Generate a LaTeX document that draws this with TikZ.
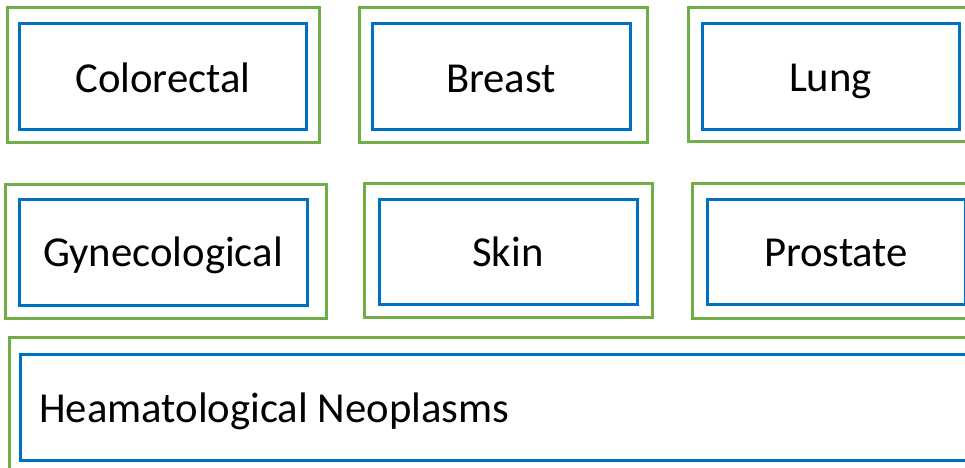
\documentclass[tikz,border=0pt]{standalone}
\usepackage{fontspec}
\setmainfont{Carlito}
\definecolor{framegreen}{HTML}{70AD47}
\definecolor{boxblue}{HTML}{0070C0}
\begin{document}
\begin{tikzpicture}[x=1pt,y=-1pt,
  outerbox/.style={draw=framegreen,line width=3pt,rectangle,inner sep=0pt},
  innerbox/.style={draw=boxblue,line width=3pt,rectangle,inner sep=0pt},
  label/.style={anchor=base,inner sep=0pt,font=\fontsize{42.7}{50}\selectfont}]
\useasboundingbox (0,0) rectangle (965,467);
\clip (0,0) rectangle (965,467);
% top row
\node[outerbox,minimum width=312,minimum height=135] (colO) at (163,74.5) {};
\node[innerbox,minimum width=287,minimum height=106] (colI) at (162.5,76) {};
\node[label] (colT) at (163,92) {Colorectal};
\node[outerbox,minimum width=288,minimum height=135] (brO) at (503,74.5) {};
\node[innerbox,minimum width=258,minimum height=106] (brI) at (501,76) {};
\node[label] (brT) at (501,92) {Breast};
\node[outerbox,minimum width=288,minimum height=134] (luO) at (832,74) {};
\node[innerbox,minimum width=257,minimum height=106] (luI) at (830.5,76) {};
\node[label] (luT) at (830.5,91) {Lung};
% middle row
\node[outerbox,minimum width=321,minimum height=134] (gyO) at (165.5,251) {};
\node[innerbox,minimum width=288,minimum height=106] (gyI) at (163,252) {};
\node[label] (gyT) at (163,266) {Gynecological};
\node[outerbox,minimum width=288,minimum height=134] (skO) at (508,250) {};
\node[innerbox,minimum width=258,minimum height=105] (skI) at (508,251.5) {};
\node[label] (skT) at (508,266) {Skin};
\node[outerbox,minimum width=288,minimum height=135] (prO) at (836,250.5) {};
\node[innerbox,minimum width=258,minimum height=105] (prI) at (836,251.5) {};
\node[label] (prT) at (836,266) {Prostate};
% bottom row
\node[outerbox,minimum width=980,minimum height=150] (heO) at (499,412) {};
\node[innerbox,minimum width=960,minimum height=106] (heI) at (500,407) {};
\node[label,anchor=base west] (heT) at (39,422) {Heamatological Neoplasms};
\end{tikzpicture}
\end{document}
